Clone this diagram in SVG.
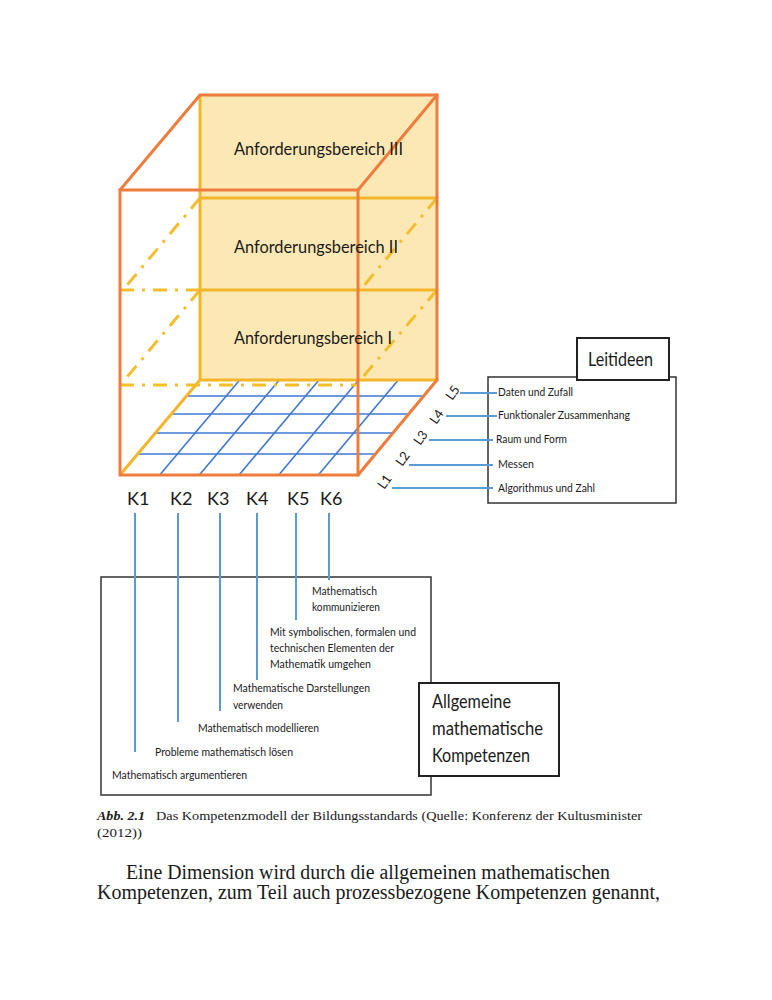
<svg xmlns="http://www.w3.org/2000/svg" width="772" height="1000" viewBox="0 0 772 1000">
<style>
.s{font-family:Lato,"Open Sans","Liberation Sans",sans-serif;fill:#1a1a1a}
.ser{font-family:"Liberation Serif","DejaVu Serif",serif;fill:#1a1a1a}
.or{stroke:#ee7c3c;stroke-width:3;fill:none;stroke-linecap:round}
.ye{stroke:#f4b52a;stroke-width:3;fill:none}
.dd{stroke:#f3bd2e;stroke-width:3;fill:none;stroke-dasharray:14 8 3 8}
.grid{stroke:#3f78d2;stroke-width:1.6;fill:none}
.con{stroke:#5a9bd5;stroke-width:2;fill:none}
.box{stroke:#333;stroke-width:1.5;fill:#fff}
.bx2{stroke:#222;stroke-width:2;fill:#fff}
</style>
<rect width="772" height="1000" fill="#fff"/>
<g id="cube">
<rect x="200" y="95" width="237" height="285" fill="#fce8b4"/>
<g id="floor-grid">
<line class="grid" x1="186.5" y1="396" x2="424.5" y2="396"/>
<line class="grid" x1="171.4" y1="414" x2="409.4" y2="414"/>
<line class="grid" x1="155.4" y1="433" x2="393.4" y2="433"/>
<line class="grid" x1="137.7" y1="454" x2="375.7" y2="454"/>
<line class="grid" x1="159.7" y1="475" x2="239.7" y2="380"/>
<line class="grid" x1="199.3" y1="475" x2="279.3" y2="380"/>
<line class="grid" x1="239" y1="475" x2="319" y2="380"/>
<line class="grid" x1="278.7" y1="475" x2="358.7" y2="380"/>
<line class="grid" x1="318.3" y1="475" x2="398.3" y2="380"/>
</g>
<line class="dd" x1="200" y1="198" x2="123" y2="290"/>
<line class="dd" x1="120" y1="290" x2="200" y2="290"/>
<line class="dd" x1="200" y1="290" x2="122" y2="383"/>
<line class="dd" x1="120" y1="385" x2="356" y2="385"/>
<line class="dd" x1="437" y1="198" x2="362" y2="288"/>
<line class="dd" x1="437" y1="290" x2="362" y2="378"/>
<line class="ye" x1="200" y1="95" x2="200" y2="380"/>
<line class="ye" x1="200" y1="198" x2="437" y2="198"/>
<line class="ye" x1="200" y1="290" x2="437" y2="290"/>
<line class="ye" x1="200" y1="380" x2="437" y2="380"/>
<line class="ye" x1="120" y1="475" x2="200" y2="380"/>
<line class="or" x1="200" y1="95" x2="437" y2="95"/>
<line class="or" x1="437" y1="95" x2="437" y2="380"/>
<line class="or" x1="120" y1="190" x2="200" y2="95"/>
<line class="or" x1="358" y1="190" x2="437" y2="95"/>
<line class="or" x1="358" y1="475" x2="437" y2="380"/>
<rect class="or" x="120" y="190" width="238" height="285"/>
<text class="s" x="234" y="155" font-size="17" textLength="169" lengthAdjust="spacingAndGlyphs">Anforderungsbereich III</text>
<text class="s" x="234" y="253" font-size="17" textLength="164" lengthAdjust="spacingAndGlyphs">Anforderungsbereich II</text>
<text class="s" x="234" y="344" font-size="17" textLength="158" lengthAdjust="spacingAndGlyphs">Anforderungsbereich I</text>
</g>
<g id="k-labels" class="s" font-size="18">
<text x="127" y="505">K1</text>
<text x="170" y="505">K2</text>
<text x="207" y="505">K3</text>
<text x="246" y="505">K4</text>
<text x="287" y="505">K5</text>
<text x="320" y="505">K6</text>
</g>
<g id="l-labels" class="s" font-size="13" text-anchor="middle">
<text transform="translate(453,393) rotate(-55)" dy="4">L5</text>
<text transform="translate(437,417) rotate(-55)" dy="4">L4</text>
<text transform="translate(421,438) rotate(-55)" dy="4">L3</text>
<text transform="translate(403,459) rotate(-55)" dy="4">L2</text>
<text transform="translate(385,482) rotate(-55)" dy="4">L1</text>
</g>
<g id="leitideen">
<rect class="box" x="488" y="377" width="188" height="126"/>
<rect class="bx2" x="577" y="338" width="92" height="42"/>
<text class="s" x="588" y="366" font-size="19" textLength="65" lengthAdjust="spacingAndGlyphs">Leitideen</text>
<g class="s" font-size="12">
<text x="498" y="396" textLength="75" lengthAdjust="spacingAndGlyphs">Daten und Zufall</text>
<text x="498" y="419" textLength="132" lengthAdjust="spacingAndGlyphs">Funktionaler Zusammenhang</text>
<text x="496" y="443" textLength="71" lengthAdjust="spacingAndGlyphs">Raum und Form</text>
<text x="498" y="468" textLength="36" lengthAdjust="spacingAndGlyphs">Messen</text>
<text x="498" y="492" textLength="97" lengthAdjust="spacingAndGlyphs">Algorithmus und Zahl</text>
</g>
</g>
<g id="kompetenzen">
<rect class="box" x="101" y="577" width="330" height="218"/>
<g class="s" font-size="12">
<text x="312" y="595" textLength="65" lengthAdjust="spacingAndGlyphs">Mathematisch</text>
<text x="312" y="611" textLength="68" lengthAdjust="spacingAndGlyphs">kommunizieren</text>
<text x="270" y="636" textLength="146" lengthAdjust="spacingAndGlyphs">Mit symbolischen, formalen und</text>
<text x="270" y="652" textLength="124" lengthAdjust="spacingAndGlyphs">technischen Elementen der</text>
<text x="270" y="668" textLength="101" lengthAdjust="spacingAndGlyphs">Mathematik umgehen</text>
<text x="233" y="692" textLength="137" lengthAdjust="spacingAndGlyphs">Mathematische Darstellungen</text>
<text x="233" y="709" textLength="50" lengthAdjust="spacingAndGlyphs">verwenden</text>
<text x="198" y="732" textLength="121" lengthAdjust="spacingAndGlyphs">Mathematisch modellieren</text>
<text x="155" y="756" textLength="138" lengthAdjust="spacingAndGlyphs">Probleme mathematisch lösen</text>
<text x="112" y="779" textLength="135" lengthAdjust="spacingAndGlyphs">Mathematisch argumentieren</text>
</g>
</g>
<g id="allgemeine">
<rect class="bx2" x="419" y="683" width="140" height="93"/>
<g class="s" font-size="19">
<text x="432" y="708" textLength="79" lengthAdjust="spacingAndGlyphs">Allgemeine</text>
<text x="432" y="735" textLength="111" lengthAdjust="spacingAndGlyphs">mathematische</text>
<text x="432" y="762" textLength="98" lengthAdjust="spacingAndGlyphs">Kompetenzen</text>
</g>
</g>
<g id="connectors">
<line class="con" x1="135" y1="513" x2="135" y2="752"/>
<line class="con" x1="178" y1="513" x2="178" y2="722"/>
<line class="con" x1="220" y1="513" x2="220" y2="711"/>
<line class="con" x1="257" y1="513" x2="257" y2="680"/>
<line class="con" x1="296" y1="513" x2="296" y2="620"/>
<line class="con" x1="329" y1="513" x2="329" y2="580"/>
<line class="con" x1="460" y1="393" x2="497" y2="393"/>
<line class="con" x1="446" y1="416" x2="497" y2="416"/>
<line class="con" x1="429" y1="440" x2="493" y2="440"/>
<line class="con" x1="409" y1="465" x2="493" y2="465"/>
<line class="con" x1="392" y1="488" x2="493" y2="488"/>
</g>
<g id="caption">
<text class="ser" x="97" y="820" font-size="13.5" font-weight="bold" font-style="italic" textLength="48" lengthAdjust="spacingAndGlyphs">Abb. 2.1</text>
<text class="ser" x="156" y="820" font-size="13.5" textLength="486" lengthAdjust="spacingAndGlyphs">Das Kompetenzmodell der Bildungsstandards (Quelle: Konferenz der Kultusminister</text>
<text class="ser" x="97" y="837" font-size="13.5" textLength="45" lengthAdjust="spacingAndGlyphs">(2012))</text>
</g>
<g id="body">
<text class="ser" x="126" y="879" font-size="20" textLength="484" lengthAdjust="spacingAndGlyphs">Eine Dimension wird durch die allgemeinen mathematischen</text>
<text class="ser" x="97" y="899" font-size="20" textLength="563" lengthAdjust="spacingAndGlyphs">Kompetenzen, zum Teil auch prozessbezogene Kompetenzen genannt,</text>
</g>
</svg>
